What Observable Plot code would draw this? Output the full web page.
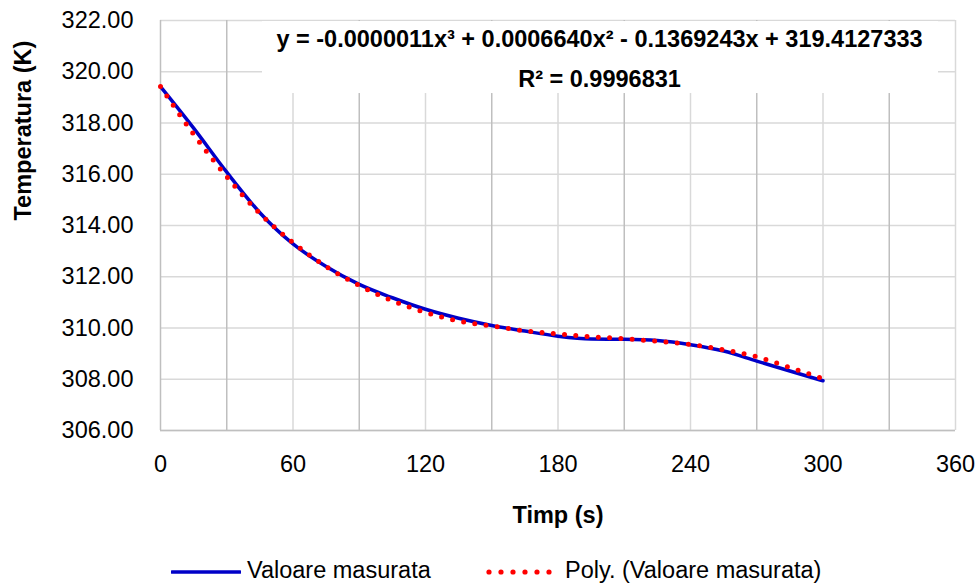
<!DOCTYPE html>
<html><head><meta charset="utf-8">
<script src="https://cdn.jsdelivr.net/npm/d3@7"></script>
<script src="https://cdn.jsdelivr.net/npm/@observablehq/plot@0.6"></script>
<style>
body{margin:0;background:#fff;}
#wrap{position:relative;width:977px;height:586px;font-family:"Liberation Sans",Arial,sans-serif;background:#fff;}
.lg{position:absolute;top:555px;height:30px;line-height:30px;font-size:23.5px;color:#000;white-space:nowrap;}
.sw{position:absolute;top:568px;}
</style></head><body><div id="wrap"></div>
<script>
// ---- data ----
const timeS = [0,15,30,45,60,75,90,105,120,135,150,165,180,195,210,225,240,255,270,285,300];
const measuredK = [319.42,317.8,316.08,314.5,313.28,312.4,311.7,311.18,310.73,310.38,310.1,309.88,309.68,309.57,309.56,309.51,309.35,309.1,308.71,308.32,307.94];
const polyK = [319.42,317.56,315.9,314.47,313.33,312.4,311.66,311.06,310.61,310.27,310.08,309.89,309.77,309.66,309.58,309.48,309.36,309.15,308.88,308.46,308.02];
const yTicks = [306,308,310,312,314,316,318,320,322];
const xTicks = [0,60,120,180,240,300,360];
const gridMajorX = [30,90,150,210,270,330];
const gridMinorX = [60,120,180,240,300,360];
const seriesNames = ["Valoare masurata","Poly. (Valoare masurata)"];
const equationText = "y = -0.0000011x³ + 0.0006640x² - 0.1369243x + 319.4127333";
const r2Text = "R² = 0.9996831";
const xTitle = "Timp (s)";
const yTitle = "Temperatura (K)";

const measured = timeS.map((t,i)=>({t, k: measuredK[i]}));
const poly = timeS.map((t,i)=>({t, k: polyK[i]}));
const labelBox = [{x1:46.2, x2:352.3, y1:319.15, y2:321.96}];

const font = '"Liberation Sans", Arial, sans-serif';
const blue = "#0000c8", red = "#ff0000";

const chart = Plot.plot({
  width:977, height:550,
  marginLeft:160, marginRight:22, marginTop:20, marginBottom:120,
  style:{fontFamily:font, fontSize:"23.5px", color:"#000", background:"#fff", overflow:"visible"},
  x:{domain:[0,360], ticks:xTicks, tickSize:0, tickPadding:25, label:null},
  y:{domain:[306,322], ticks:yTicks, tickSize:0, tickPadding:27, tickFormat:d3.format(".2f"), label:null},
  marks:[
    Plot.ruleY(yTicks, {stroke:"#d9d9d9", strokeWidth:1.5}),
    Plot.ruleX(gridMinorX, {stroke:"#d9d9d9", strokeWidth:1.5}),
    Plot.ruleX(gridMajorX, {stroke:"#bfbfbf", strokeWidth:1.5}),
    Plot.rect(labelBox, {x1:"x1", x2:"x2", y1:"y1", y2:"y2", fill:"#fff"}),
    Plot.ruleX([0], {stroke:"#bfbfbf", strokeWidth:1.5}),
    Plot.ruleY([306], {stroke:"#bfbfbf", strokeWidth:1.5}),
    Plot.line(measured, {x:"t", y:"k", stroke:blue, strokeWidth:3.5, curve:"monotone-x"}),
    Plot.line(poly, {x:"t", y:"k", stroke:red, strokeWidth:5, strokeDasharray:"0 11.3", strokeLinecap:"round", curve:"monotone-x"}),
    Plot.text([equationText], {text:d=>d, frameAnchor:"top", dx:41.5, dy:19, lineAnchor:"middle", fontWeight:"bold", fill:"#000"}),
    Plot.text([r2Text], {text:d=>d, frameAnchor:"top", dx:41.5, dy:59, lineAnchor:"middle", fontWeight:"bold", fill:"#000"}),
    Plot.text([xTitle], {text:d=>d, frameAnchor:"bottom", dy:85, lineAnchor:"middle", fontWeight:"bold", fill:"#000"}),
    Plot.text([yTitle], {text:d=>d, frameAnchor:"left", dx:-137, dy:-5, rotate:-90, lineAnchor:"middle", fontWeight:"bold", fill:"#000"})
  ]
});

const wrap = document.getElementById("wrap");
wrap.appendChild(chart);
chart.style.position = "absolute"; chart.style.left = "0"; chart.style.top = "0";

// legend
function swatch(left, width, draw){
  const s = d3.create("svg").attr("class","sw").attr("width",width).attr("height",8)
    .style("left", left+"px");
  draw(s);
  wrap.appendChild(s.node());
}
swatch(171, 70, s => s.append("line").attr("x1",1).attr("x2",69).attr("y1",4).attr("y2",4)
  .attr("stroke",blue).attr("stroke-width",3.5).attr("stroke-linecap","round"));
swatch(485, 70, s => s.selectAll("circle").data(d3.range(6)).join("circle")
  .attr("cx",d=>4+d*12).attr("cy",4).attr("r",2.6).attr("fill",red));
const lg1 = document.createElement("div"); lg1.className="lg"; lg1.style.left="247px"; lg1.textContent=seriesNames[0]; wrap.appendChild(lg1);
const lg2 = document.createElement("div"); lg2.className="lg"; lg2.style.left="565px"; lg2.textContent=seriesNames[1]; wrap.appendChild(lg2);
</script></body></html>
